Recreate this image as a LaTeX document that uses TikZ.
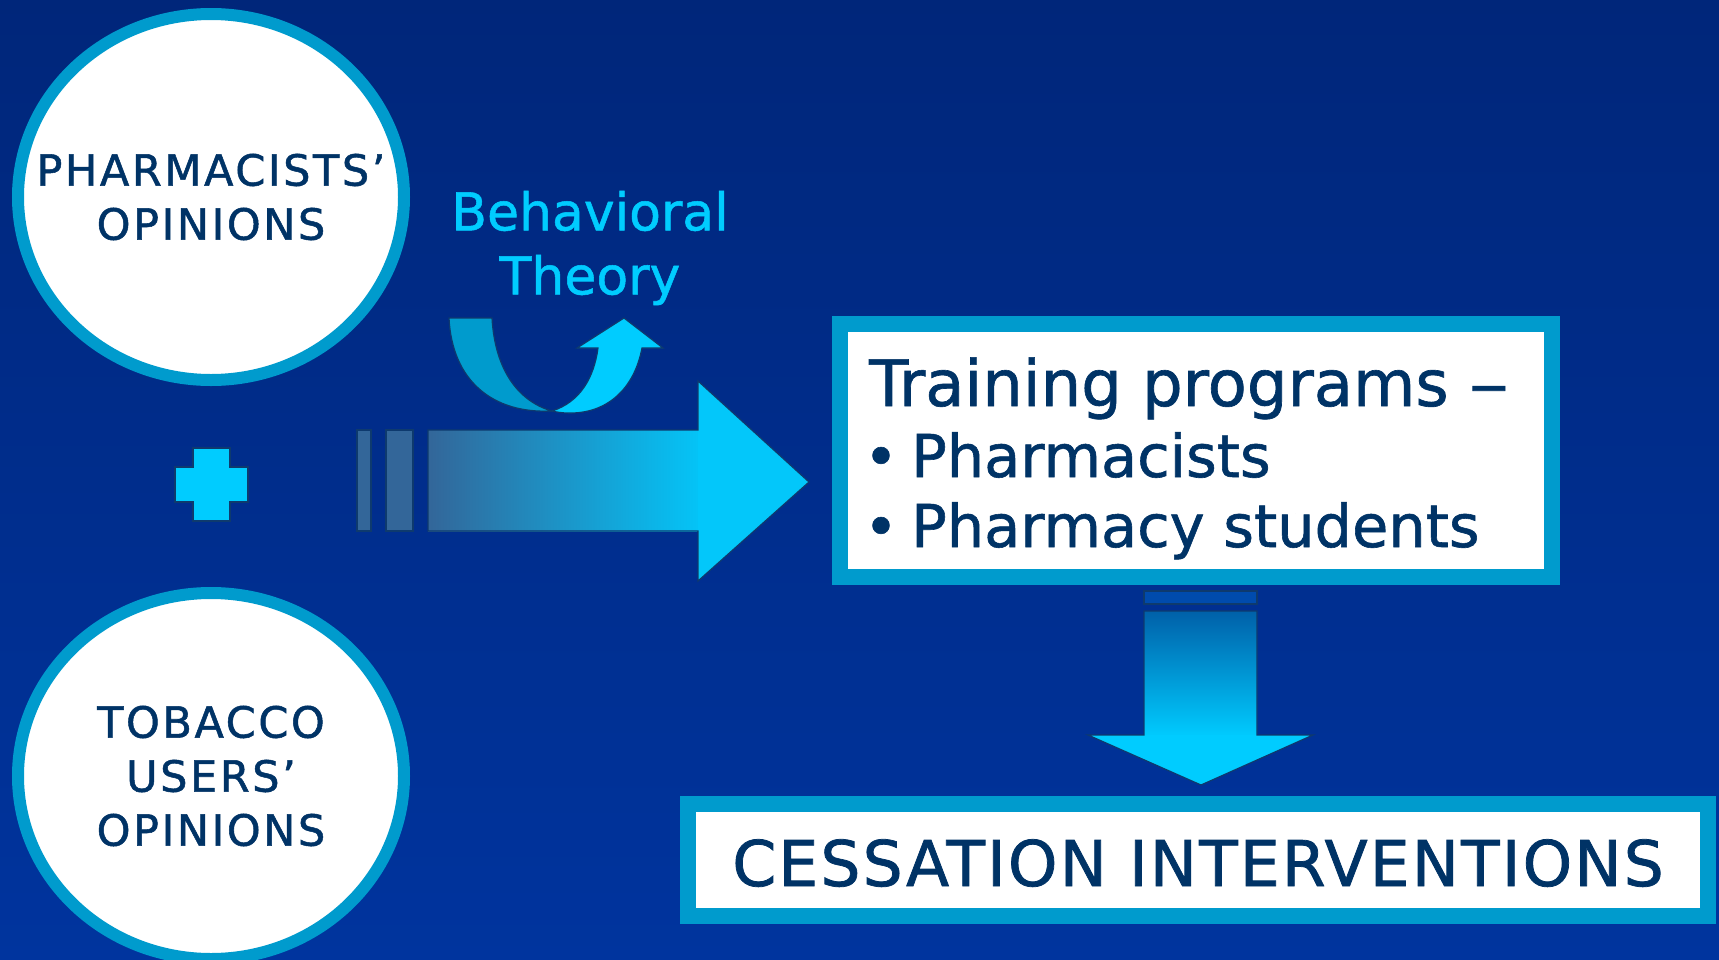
\documentclass[tikz,border=0pt]{standalone}
\usepackage{fontspec}
\setmainfont{DejaVu Sans}[FakeBold=1.2]
\newfontfamily\bodyfont[FakeBold=1]{DejaVu Sans}
\newfontfamily\capsfont[LetterSpace=6,FakeBold=1.2]{DejaVu Sans}
\newfontfamily\bannerfont[LetterSpace=3.5,FakeBold=1.2]{DejaVu Sans}
\usepackage{xcolor}
\usepackage{tikz}
\usetikzlibrary{shapes.geometric}
\usetikzlibrary{positioning}

\definecolor{bgtop}{RGB}{0,38,122}
\definecolor{bgbot}{RGB}{0,52,158}
\definecolor{ringc}{RGB}{0,155,205}
\definecolor{cyanc}{RGB}{0,204,255}
\definecolor{navyc}{RGB}{0,51,102}
\definecolor{steelc}{RGB}{51,102,153}
\definecolor{edgec}{RGB}{14,58,110}

\tikzset{
  opinion/.style={ellipse, draw=ringc, line width=12, fill=white,
    minimum width=386, minimum height=366, inner sep=0pt},
  opiniontext/.style={text=navyc, align=center, inner sep=0pt,
    font=\capsfont\fontsize{43}{54}\selectfont},
  ringbox/.style={rectangle, draw=ringc, line width=16, fill=white, inner sep=0pt},
  linetext/.style={anchor=base west, text=navyc, inner sep=0pt},
  outline/.style={draw=edgec, line width=1.2}
}

\begin{document}
\begin{tikzpicture}[x=1pt,y=-1pt]
	\useasboundingbox (0,0) rectangle (1719,959);
	\shade[top color=bgtop, bottom color=bgbot] (0,0) rectangle (1719,959);

	% opinions
	\node[opinion] (pharm) at (211,197) {};
	\node[opiniontext] (pharmText) at (pharm.center) {PHARMACISTS’\\OPINIONS};
	\node[opinion] (users) at (211,776) {};
	\node[opiniontext] (usersText) at (users.center) {TOBACCO\\USERS’\\OPINIONS};
	\filldraw[fill=cyanc, outline] (193,448) -- (230,448) -- (230,467) -- (248,467) -- (248,502) -- (230,502) -- (230,521) -- (193,521) -- (193,502) -- (175,502) -- (175,467) -- (193,467) -- cycle;

	% big arrow
	\filldraw[fill=steelc, outline] (357,430) rectangle (371,531);
	\filldraw[fill=steelc, outline] (386,430) rectangle (413,531);
	\shade[left color=steelc, right color=cyanc!92!steelc] (428,430) rectangle (699,531);
	\fill[cyanc!95!steelc] (698,381) -- (809,482) -- (698,581) -- cycle;
	\draw[outline] (428,430) -- (698,430) -- (698,381) -- (809,482) -- (698,581) -- (698,531) -- (428,531) -- cycle;

	% behavioral theory
	\node[text=cyanc, align=center, font=\bodyfont\fontsize{52}{64}\selectfont] (theory) at (590,248) {Behavioral\\Theory};
	\filldraw[fill=ringc, outline] (449,318) -- (492,318) .. controls (495,372) and (520,402) .. (552,411) .. controls (492,414) and (452,380) .. (449,318) -- cycle;
	\filldraw[fill=cyanc, outline] (552,411) .. controls (580,402) and (594,378) .. (598,348) -- (577,348) -- (624,318) -- (663,348) -- (642,348) .. controls (634,390) and (606,414) .. (568,413) .. controls (562,413) and (556,412) .. (552,411) -- cycle;

	% training programs
	\node[ringbox, minimum width=712, minimum height=253] (trainBox) at (1196,450.5) {};
	\node[linetext, font=\bodyfont\fontsize{64}{70}\selectfont] (trainHead) at (869,406) {Training programs \scalebox{1.25}[1]{–}};
	\node[linetext, font=\bodyfont\fontsize{59}{70}\selectfont] (trainA) at (911,477) {Pharmacists};
	\node[linetext, font=\bodyfont\fontsize{59}{70}\selectfont] (trainB) at (911,547) {Pharmacy students};
	\node[anchor=base, text=navyc, inner sep=0pt, font=\bodyfont\fontsize{58}{70}\selectfont] (bulletA) at (881,477) {\textbullet};
	\node[anchor=base, text=navyc, inner sep=0pt, font=\bodyfont\fontsize{58}{70}\selectfont] (bulletB) at (881,547) {\textbullet};

	% down arrow
	\filldraw[fill=bgbot!85!cyanc, outline] (1144,591) rectangle (1257,604);
	\shade[top color=cyanc!35!bgtop, bottom color=cyanc] (1144,611) rectangle (1257,737);
	\fill[cyanc] (1088,735) -- (1201,785) -- (1313,735) -- cycle;
	\draw[outline] (1144,611) -- (1257,611) -- (1257,735) -- (1313,735) -- (1201,785) -- (1088,735) -- (1144,735) -- cycle;

	% cessation
	\node[ringbox, minimum width=1020, minimum height=112] (cessBox) at (1198,860) {};
	\node[anchor=base, text=navyc, inner sep=0pt, font=\bannerfont\fontsize{63}{70}\selectfont] (cessText) at (1198,886) {CESSATION INTERVENTIONS};
\end{tikzpicture}
\end{document}
